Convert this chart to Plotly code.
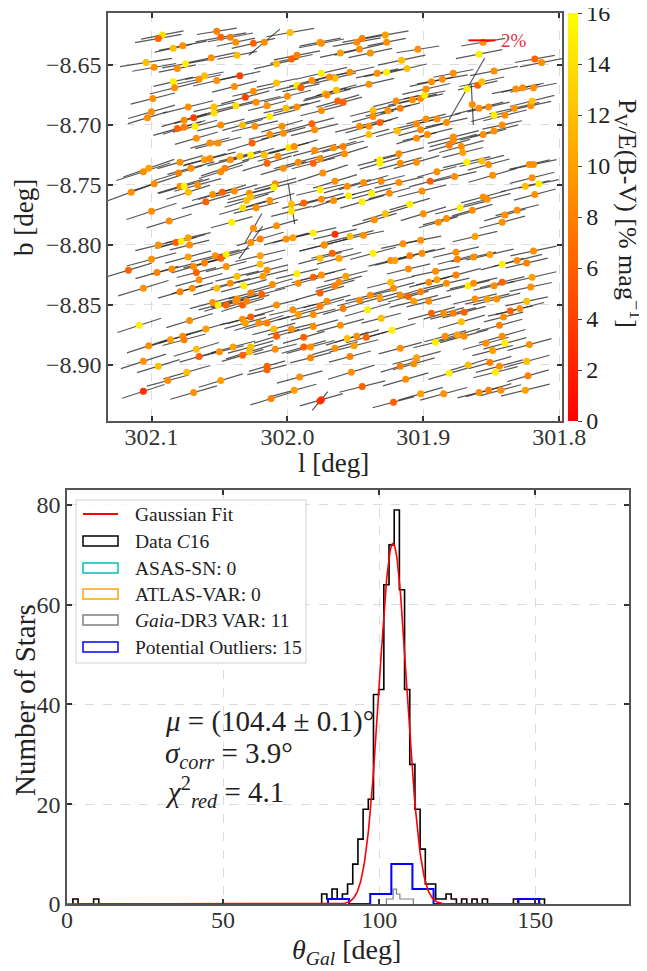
import numpy as np
import plotly.graph_objects as go

W, H = 647, 971
OFF = 8                      # page body margin of the browser
FW, FH = W - OFF, H - OFF    # figure size so that it fits the window exactly
FONT = "Liberation Serif, Times New Roman, serif"

# ---------------- Top panel: polarization vectors ----------------
l_a = [302.092, 302.095, 302.084, 302.077, 302.052, 302.049, 302.042, 302.038, 302.025, 302.017,
       301.998, 301.976, 302.104, 302.098, 302.081, 302.075, 302.056, 302.037, 302.008, 301.997,
       301.993, 302.084, 302.083, 302.065, 302.061, 302.052, 302.035, 302.039, 302.031, 302.025,
       302.008, 302.000, 301.993, 301.990, 301.982, 301.975, 301.972, 302.099, 302.100, 302.103,
       302.073, 302.054, 302.054, 302.038, 302.023, 302.015, 302.001, 301.993, 301.975, 302.076,
       302.069, 302.068, 302.081, 302.076, 302.049, 302.033, 302.024, 302.013, 302.004, 301.982,
       301.980, 302.067, 302.057, 302.051, 302.026, 302.013, 302.003, 301.999, 301.995, 301.980,
       302.106, 302.102, 302.079, 302.080, 302.071, 302.061, 302.057, 302.049, 302.046, 302.042,
       302.035, 302.027, 302.017, 302.015, 302.007, 302.003, 301.992, 301.981, 301.976, 302.115,
       302.098, 302.079, 302.076, 302.073, 302.066, 302.055, 302.048, 302.039, 302.028, 302.027,
       302.030, 302.060, 302.009, 302.010, 302.013, 301.997, 301.988, 301.976, 301.975, 302.100,
       302.087, 302.041, 302.033, 302.023, 302.025, 302.008, 301.997]
b_a = [-8.625, -8.628, -8.636, -8.634, -8.622, -8.627, -8.627, -8.631, -8.632, -8.631,
       -8.623, -8.631, -8.648, -8.652, -8.653, -8.649, -8.644, -8.642, -8.649, -8.645,
       -8.642, -8.664, -8.669, -8.662, -8.659, -8.663, -8.659, -8.668, -8.677, -8.672,
       -8.665, -8.676, -8.667, -8.669, -8.663, -8.657, -8.674, -8.678, -8.689, -8.694,
       -8.685, -8.685, -8.690, -8.684, -8.681, -8.684, -8.686, -8.685, -8.688, -8.696,
       -8.694, -8.701, -8.703, -8.702, -8.700, -8.700, -8.701, -8.693, -8.701, -8.699,
       -8.704, -8.711, -8.715, -8.715, -8.715, -8.708, -8.707, -8.719, -8.718, -8.721,
       -8.739, -8.736, -8.731, -8.740, -8.736, -8.729, -8.728, -8.739, -8.736, -8.729,
       -8.726, -8.725, -8.725, -8.732, -8.726, -8.736, -8.731, -8.732, -8.728, -8.756,
       -8.749, -8.751, -8.751, -8.756, -8.750, -8.758, -8.756, -8.755, -8.757, -8.760,
       -8.763, -8.764, -8.749, -8.752, -8.763, -8.766, -8.765, -8.754, -8.762, -8.772,
       -8.780, -8.781, -8.769, -8.769, -8.786, -8.784, -8.772]
pe_a = [14, 6, 12, 9, 8, 6, 8, 9, 6, 9,
        12, 10, 12, 9, 9, 15, 9, 12, 12, 6,
        8, 15, 9, 9, 12, 9, 4, 9, 4, 9,
        12, 9, 15, 6, 9, 15, 12, 9, 9, 9,
        9, 12, 14, 14, 9, 9, 12, 9, 9, 9,
        4, 15, 6, 8, 9, 12, 9, 15, 9, 6,
        9, 9, 9, 9, 6, 9, 9, 14, 9, 9,
        9, 10, 9, 8, 9, 10, 9, 9, 8, 9,
        12, 15, 12, 6, 9, 9, 9, 6, 9, 9,
        9, 9, 15, 12, 9, 9, 6, 9, 9, 12,
        12, 6, 9, 15, 9, 12, 6, 15, 9, 9,
        9, 15, 14, 9, 9, 9, 14]
th_a = [101, 100, 102, 101, 99, 100, 101, 102, 103, 130,
        100, 101, 99, 100, 101, 100, 102, 101, 103, 102,
        101, 103, 104, 102, 101, 103, 102, 104, 105, 103,
        102, 104, 103, 102, 104, 103, 105, 104, 106, 107,
        104, 103, 105, 104, 103, 104, 102, 105, 104, 106,
        107, 105, 106, 108, 104, 105, 103, 104, 106, 105,
        104, 106, 105, 104, 107, 103, 105, 104, 106, 105,
        108, 109, 106, 107, 105, 106, 104, 107, 108, 105,
        104, 106, 105, 107, 104, 106, 105, 104, 106, 110,
        108, 107, 106, 108, 105, 106, 107, 105, 106, 104,
        107, 106, 105, 104, 106, 9, 104, 103, 105, 108,
        107, 105, 106, 104, 150, 106, 104]
p_a = [3.2, 3.5, 2.8, 3.6, 3.0, 3.8, 3.4, 2.9, 3.3, 3.0,
       3.6, 3.1, 3.9, 3.3, 2.8, 3.5, 3.7, 3.0, 3.4, 3.2,
       3.5, 3.0, 3.8, 3.3, 2.9, 3.6, 3.1, 3.4, 3.7, 3.2,
       3.0, 3.6, 3.3, 2.8, 3.5, 3.9, 3.2, 3.4, 3.6, 3.0,
       3.8, 3.1, 3.5, 3.3, 3.7, 2.9, 3.4, 3.6, 3.2, 3.5,
       3.0, 3.4, 3.7, 3.3, 3.6, 3.1, 3.5, 3.9, 3.2, 3.4,
       3.6, 3.3, 3.0, 3.5, 3.8, 3.2, 3.4, 3.1, 3.6, 3.3,
       4.2, 4.0, 3.5, 3.8, 3.6, 3.3, 3.9, 3.4, 3.7, 3.5,
       3.2, 3.6, 3.4, 3.8, 3.1, 3.5, 3.7, 3.3, 3.6, 4.0,
       3.8, 3.5, 3.9, 3.4, 3.6, 3.2, 3.7, 3.5, 3.3, 3.6,
       3.4, 3.7, 3.2, 3.5, 3.8, 3.0, 3.3, 3.6, 3.4, 3.9,
       3.5, 3.2, 3.6, 3.4, 2.5, 3.3, 3.1]

l_b = [301.975, 301.961, 301.949, 301.945, 301.947, 301.939, 301.928, 301.927, 301.904, 301.916,
       301.912, 301.927, 301.954, 301.965, 301.969, 301.964, 301.971, 301.963, 301.959, 301.940,
       301.934, 301.920, 301.917, 301.908, 301.902, 301.899, 301.898, 301.894, 301.886, 301.878,
       301.937, 301.937, 301.932, 301.926, 301.940, 301.940, 301.947, 301.919, 301.905, 301.898,
       301.890, 301.883, 301.902, 301.897, 301.905, 301.859, 301.856, 301.868, 301.848, 301.860,
       301.857, 301.864, 301.859, 301.852, 301.848, 301.840, 301.833, 301.821, 301.820, 301.832,
       301.827, 301.819, 301.818, 301.813, 301.878, 301.878, 301.881, 301.872, 301.871, 301.856,
       301.848, 301.842, 301.966, 301.959, 301.958, 301.932, 301.932, 301.918, 301.917, 301.905,
       301.890, 301.868, 301.857, 301.852, 301.849, 301.819, 301.822, 301.974, 301.965, 301.956,
       301.966, 301.955, 301.944, 301.938, 301.945, 301.931, 301.925, 301.918, 301.910, 301.928,
       301.936, 301.901, 301.895, 301.900, 301.889, 301.883, 301.877, 301.873, 301.864, 301.856,
       301.853, 301.840, 301.842, 301.831, 301.825, 301.815, 301.820, 301.818]
b_b = [-8.632, -8.640, -8.631, -8.628, -8.637, -8.640, -8.625, -8.631, -8.637, -8.646,
       -8.653, -8.656, -8.656, -8.661, -8.660, -8.671, -8.675, -8.680, -8.681, -8.666,
       -8.657, -8.680, -8.686, -8.679, -8.678, -8.675, -8.670, -8.664, -8.662, -8.657,
       -8.688, -8.693, -8.698, -8.688, -8.701, -8.708, -8.701, -8.705, -8.699, -8.695,
       -8.695, -8.698, -8.704, -8.708, -8.711, -8.641, -8.631, -8.670, -8.655, -8.667,
       -8.664, -8.683, -8.686, -8.685, -8.692, -8.692, -8.686, -8.684, -8.680, -8.670,
       -8.669, -8.669, -8.645, -8.648, -8.713, -8.710, -8.717, -8.718, -8.723, -8.708,
       -8.705, -8.700, -8.719, -8.718, -8.724, -8.729, -8.732, -8.724, -8.732, -8.731,
       -8.739, -8.731, -8.730, -8.733, -8.742, -8.733, -8.733, -8.740, -8.747, -8.751,
       -8.763, -8.759, -8.748, -8.757, -8.764, -8.747, -8.757, -8.748, -8.766, -8.774,
       -8.779, -8.755, -8.747, -8.774, -8.781, -8.778, -8.743, -8.769, -8.771, -8.760,
       -8.762, -8.775, -8.781, -8.771, -8.751, -8.749, -8.744, -8.758]
pe_b = [9, 10, 9, 8, 9, 9, 10, 9, 9, 12,
        12, 15, 9, 12, 9, 12, 9, 6, 6, 9,
        9, 9, 8, 9, 9, 15, 9, 9, 9, 9,
        12, 9, 6, 9, 9, 12, 9, 12, 9, 9,
        9, 9, 9, 9, 9, 15, 9, 15, 9, 6,
        12, 9, 9, 9, 15, 9, 9, 9, 12, 9,
        9, 9, 6, 9, 9, 9, 8, 9, 10, 9,
        9, 9, 9, 8, 9, 15, 15, 9, 9, 9,
        9, 15, 12, 9, 9, 9, 9, 9, 9, 9,
        9, 15, 9, 15, 15, 9, 9, 9, 15, 12,
        9, 9, 6, 9, 9, 9, 9, 15, 9, 9,
        9, 9, 9, 9, 12, 15, 9, 9]
th_b = [101, 102, 100, 101, 103, 102, 100, 101, 99, 102,
        103, 101, 102, 104, 103, 105, 104, 106, 105, 103,
        102, 104, 105, 103, 102, 101, 103, 102, 100, 101,
        104, 105, 106, 104, 106, 105, 104, 105, 103, 104,
        103, 102, 105, 104, 106, 101, 100, 150, 101, 103,
        102, 3, 104, 103, 105, 104, 103, 102, 104, 101,
        102, 101, 100, 101, 105, 104, 106, 105, 104, 103,
        104, 102, 106, 105, 107, 105, 106, 104, 105, 106,
        105, 103, 104, 105, 106, 102, 103, 108, 107, 106,
        107, 105, 106, 105, 106, 104, 105, 103, 106, 107,
        106, 104, 105, 107, 106, 105, 103, 104, 106, 105,
        104, 106, 105, 104, 103, 102, 104, 105]
p_b = [3.4, 3.1, 3.6, 3.0, 3.8, 3.3, 3.5, 2.9, 3.2, 3.6,
       3.0, 3.4, 3.7, 3.2, 3.5, 3.1, 3.6, 3.3, 2.9, 3.8,
       3.2, 3.5, 3.0, 3.7, 3.4, 3.1, 3.6, 3.3, 3.8, 3.0,
       3.5, 3.2, 2.8, 3.4, 3.6, 3.1, 3.7, 3.3, 3.5, 3.0,
       3.6, 3.2, 3.4, 3.8, 3.1, 3.5, 3.3, 5.3, 3.6, 3.0,
       3.4, 3.0, 3.7, 3.2, 3.5, 3.3, 3.8, 3.1, 3.4, 3.6,
       3.2, 3.5, 3.0, 3.3, 3.6, 3.9, 3.2, 3.4, 3.1, 3.5,
       3.7, 3.0, 3.5, 3.2, 3.6, 3.4, 3.1, 3.8, 3.3, 3.5,
       3.0, 3.6, 3.4, 3.2, 3.7, 3.5, 3.1, 3.9, 3.4, 3.6,
       3.3, 3.5, 3.8, 3.0, 3.4, 3.6, 3.2, 3.7, 3.1, 3.5,
       3.4, 3.7, 3.2, 3.5, 3.0, 3.6, 3.3, 3.8, 3.1, 3.4,
       3.6, 3.2, 3.5, 3.3, 3.7, 3.0, 3.4, 3.2]

l_c = [302.095, 302.082, 302.078, 302.072, 302.073, 302.100, 302.096, 302.117, 302.085, 302.073,
       302.069, 302.067, 302.065, 302.061, 302.053, 302.049, 302.045, 302.045, 302.020, 302.020,
       302.015, 302.027, 302.020, 302.001, 301.996, 301.981, 301.976, 301.973, 302.106, 302.079,
       302.070, 302.052, 302.042, 302.032, 302.037, 302.018, 302.011, 302.027, 302.019, 301.993,
       301.992, 301.981, 301.976, 302.109, 302.072, 302.060, 302.055, 302.051, 302.045, 302.038,
       302.033, 302.030, 302.037, 302.027, 302.033, 302.031, 302.021, 302.015, 302.008, 301.996,
       301.992, 301.981, 301.976, 302.010, 302.008, 301.997, 301.988, 301.981, 302.102, 302.086,
       302.077, 302.076, 302.067, 302.065, 302.050, 302.040, 302.033, 302.028, 302.027, 302.009,
       301.988, 301.983, 301.983, 302.106, 302.095, 302.074, 302.088, 302.049, 302.015, 302.015,
       301.991, 302.106, 302.069, 302.012, 301.995, 301.976]
b_c = [-8.800, -8.798, -8.797, -8.800, -8.794, -8.812, -8.823, -8.821, -8.820, -8.810,
       -8.818, -8.823, -8.829, -8.815, -8.809, -8.811, -8.808, -8.818, -8.809, -8.816,
       -8.821, -8.798, -8.795, -8.795, -8.794, -8.790, -8.811, -8.800, -8.836, -8.839,
       -8.836, -8.836, -8.832, -8.834, -8.826, -8.826, -8.833, -8.840, -8.841, -8.824,
       -8.832, -8.827, -8.840, -8.867, -8.863, -8.870, -8.848, -8.850, -8.850, -8.847,
       -8.850, -8.847, -8.845, -8.860, -8.862, -8.865, -8.865, -8.865, -8.850, -8.854,
       -8.858, -8.858, -8.851, -8.870, -8.876, -8.870, -8.877, -8.868, -8.884, -8.879,
       -8.876, -8.879, -8.887, -8.893, -8.889, -8.885, -8.892, -8.889, -8.885, -8.887,
       -8.885, -8.885, -8.894, -8.897, -8.901, -8.906, -8.913, -8.913, -8.901, -8.904,
       -8.910, -8.922, -8.923, -8.928, -8.921, -8.930]
pe_c = [9, 6, 15, 9, 10, 9, 8, 6, 9, 10,
        9, 6, 9, 8, 9, 6, 15, 9, 10, 12,
        9, 9, 8, 9, 10, 15, 12, 9, 9, 8,
        9, 12, 9, 15, 12, 10, 9, 8, 6, 15,
        9, 6, 6, 15, 9, 10, 9, 15, 6, 9,
        6, 8, 9, 6, 9, 10, 9, 8, 9, 9,
        10, 9, 8, 12, 6, 9, 6, 9, 9, 10,
        9, 8, 12, 6, 9, 10, 6, 12, 12, 9,
        6, 9, 8, 9, 12, 12, 9, 10, 6, 6,
        9, 3, 9, 8, 10, 3]
th_c = [104, 105, 106, 104, 103, 105, 106, 107, 104, 105,
        106, 104, 105, 103, 104, 106, 105, 104, 103, 105,
        104, 144, 106, 105, 104, 103, 105, 104, 107, 106,
        105, 106, 104, 105, 103, 104, 106, 105, 104, 103,
        105, 104, 106, 108, 107, 106, 105, 104, 106, 105,
        107, 106, 105, 106, 104, 105, 107, 106, 104, 103,
        105, 104, 106, 105, 107, 104, 106, 105, 108, 107,
        106, 105, 107, 106, 104, 105, 106, 107, 105, 104,
        106, 105, 104, 108, 107, 106, 105, 107, 106, 104,
        105, 108, 106, 107, 105, 140]
p_c = [3.5, 3.2, 3.7, 3.0, 3.4, 3.8, 3.3, 3.6, 3.1, 3.5,
       3.4, 3.0, 3.6, 3.2, 3.7, 3.3, 3.5, 3.1, 3.8, 3.4,
       3.2, 3.0, 3.6, 3.4, 3.1, 3.5, 3.3, 3.7, 3.9, 3.4,
       3.2, 3.6, 3.0, 3.5, 3.3, 3.8, 3.1, 3.4, 3.6, 3.2,
       3.5, 3.3, 3.7, 3.4, 3.6, 3.2, 3.5, 3.0, 3.4, 3.7,
       3.3, 3.5, 3.1, 3.6, 3.4, 3.2, 3.8, 3.5, 3.3, 3.6,
       3.1, 3.4, 3.7, 3.3, 3.5, 3.6, 3.2, 3.8, 3.4, 3.1,
       3.6, 3.3, 3.5, 3.0, 3.7, 3.4, 3.2, 3.6, 3.5, 3.3,
       3.4, 3.7, 3.1, 3.5, 3.3, 3.6, 3.2, 3.4, 2.8, 3.0,
       3.5, 3.3, 3.6, 3.2, 3.4, 1.8]

l_d = [301.965, 301.954, 301.944, 301.937, 301.973, 301.967, 301.962, 301.975, 301.965, 301.962,
       301.957, 301.971, 301.959, 301.947, 301.939, 301.932, 301.941, 301.931, 301.961, 301.956,
       301.949, 301.942, 301.951, 301.965, 301.954, 301.953, 301.924, 301.921, 301.915, 301.910,
       301.901, 301.922, 301.924, 301.917, 301.911, 301.907, 301.911, 301.902, 301.896, 301.891,
       301.890, 301.883, 301.876, 301.867, 301.863, 301.848, 301.842, 301.820, 301.821, 301.876,
       301.875, 301.863, 301.851, 301.842, 301.831, 301.824, 301.819, 301.902, 301.862, 301.923,
       301.917, 301.917, 301.913, 301.905, 301.907, 301.896, 301.894, 301.885, 301.878, 301.870,
       301.872, 301.891, 301.884, 301.875, 301.870, 301.867, 301.851, 301.844, 301.847, 301.881,
       301.854, 301.849, 301.842, 301.840, 301.836, 301.829, 301.824, 301.844, 301.841, 301.853,
       301.846, 301.862, 301.824, 301.823, 301.822, 301.825, 301.843, 301.852, 301.859, 301.885,
       301.902, 301.922, 301.945, 301.975]
b_d = [-8.791, -8.793, -8.792, -8.807, -8.800, -8.807, -8.811, -8.825, -8.834, -8.831,
       -8.826, -8.847, -8.853, -8.846, -8.842, -8.844, -8.854, -8.861, -8.867, -8.878,
       -8.876, -8.877, -8.884, -8.886, -8.893, -8.906, -8.813, -8.813, -8.799, -8.809,
       -8.807, -8.836, -8.831, -8.842, -8.843, -8.847, -8.820, -8.839, -8.831, -8.822,
       -8.829, -8.832, -8.825, -8.834, -8.832, -8.834, -8.831, -8.827, -8.835, -8.806,
       -8.812, -8.810, -8.808, -8.816, -8.813, -8.815, -8.805, -8.796, -8.793, -8.871,
       -8.886, -8.901, -8.912, -8.894, -8.899, -8.847, -8.857, -8.857, -8.857, -8.856,
       -8.864, -8.881, -8.876, -8.875, -8.876, -8.900, -8.898, -8.901, -8.906, -8.907,
       -8.882, -8.888, -8.876, -8.882, -8.855, -8.853, -8.847, -8.867, -8.860, -8.845,
       -8.845, -8.845, -8.897, -8.909, -8.883, -8.921, -8.921, -8.921, -8.923, -8.924,
       -8.924, -8.931, -8.918, -8.929]
pe_d = [3, 12, 9, 15, 9, 6, 10, 9, 8, 9,
        10, 9, 8, 9, 9, 10, 15, 12, 9, 12,
        9, 6, 10, 9, 8, 9, 9, 10, 9, 8,
        9, 9, 12, 9, 6, 10, 9, 8, 9, 9,
        10, 9, 8, 15, 9, 9, 6, 10, 9, 9,
        8, 9, 10, 15, 9, 8, 9, 9, 10, 15,
        9, 8, 9, 10, 9, 9, 6, 9, 8, 6,
        12, 15, 9, 10, 9, 12, 8, 9, 15, 15,
        9, 10, 9, 15, 6, 9, 12, 8, 9, 10,
        9, 9, 12, 8, 9, 10, 9, 8, 9, 9,
        10, 6, 6, 3]
th_d = [103, 104, 102, 105, 104, 103, 105, 104, 106, 105,
        104, 105, 106, 104, 103, 105, 106, 104, 105, 107,
        106, 105, 104, 106, 105, 107, 104, 103, 102, 104,
        103, 105, 104, 106, 105, 104, 103, 105, 104, 102,
        104, 103, 105, 104, 103, 102, 104, 103, 102, 103,
        104, 102, 103, 105, 104, 103, 102, 101, 103, 106,
        105, 107, 106, 105, 106, 104, 105, 106, 104, 105,
        106, 104, 105, 106, 105, 107, 106, 105, 104, 106,
        105, 104, 106, 105, 103, 104, 102, 105, 104, 103,
        104, 103, 105, 106, 105, 104, 105, 106, 104, 105,
        106, 105, 104, 106]
p_d = [3.3, 3.6, 3.1, 3.5, 3.8, 3.2, 3.4, 3.7, 3.0, 3.5,
       3.3, 3.6, 3.1, 3.4, 3.8, 3.2, 3.5, 3.0, 3.6, 3.3,
       3.4, 3.1, 3.7, 3.5, 3.2, 3.6, 3.4, 3.0, 3.3, 3.8,
       3.5, 3.2, 3.6, 3.4, 3.1, 3.7, 3.3, 3.5, 3.0, 3.6,
       3.2, 3.5, 3.8, 3.3, 3.6, 3.1, 3.4, 3.7, 3.2, 3.5,
       3.0, 3.4, 3.6, 3.3, 3.8, 3.2, 3.5, 3.1, 3.4, 3.6,
       3.3, 3.0, 3.5, 3.7, 3.2, 3.4, 3.6, 3.1, 3.5, 3.3,
       3.6, 3.4, 3.2, 3.5, 3.7, 3.0, 3.3, 3.6, 3.4, 3.2,
       3.5, 3.1, 3.6, 3.3, 3.4, 3.7, 3.2, 3.5, 3.0, 3.4,
       3.6, 3.3, 3.5, 3.2, 3.4, 3.7, 3.1, 3.5, 3.3, 3.6,
       3.4, 3.2, 3.5, 3.3]

scale_bar_pct = 2.0  # reference vector length (%)

# ---------------- Bottom panel: histograms ----------------
data_start, data_width = 1.88, 1.66
data_counts = [1, 0, 0, 0, 1, 0, 0, 0, 0, 0,
               0, 0, 0, 0, 0, 0, 0, 0, 0, 0,
               0, 0, 0, 0, 0, 0, 0, 0, 0, 0,
               0, 0, 0, 0, 0, 0, 0, 0, 0, 0,
               0, 0, 0, 0, 0, 0, 0, 0, 2, 1,
               3, 1, 2, 4, 8, 13, 19, 21, 42, 43,
               64, 72, 79, 63, 43, 28, 19, 11, 4, 4,
               1, 1, 2, 1, 0, 1, 0, 1, 0, 1,
               0, 0, 0, 0, 0, 1, 0, 0, 0, 0, 1]
out_start, out_width = 83.6, 6.76
out_counts = [1, 0, 2, 8, 3, 0, 0, 0, 0, 1]
gaia_start, gaia_width = 102.3, 1.08
gaia_counts = [1, 1, 3, 2, 1, 1, 1, 1]
fit_amp, fit_mu, fit_sigma = 72.3, 104.4, 4.4
fit_xmin, fit_xmax = 0.0, 152.0

# ---------------- geometry (screen pixels) ----------------
TOP = dict(x0=108, x1=562, y0=13, y1=421)
BOT = dict(x0=67, x1=629, y0=490, y1=904)
l_range = [302.132, 301.798]
b_range = [-8.9467, -8.6067]


def px(x):
    return (x - OFF) / FW


def py(y):
    return 1 - (y - OFF) / FH


star_l = l_a + l_b + l_c + l_d
star_b = b_a + b_b + b_c + b_d
star_pe = pe_a + pe_b + pe_c + pe_d
star_th = th_a + th_b + th_c + th_d
star_p = p_a + p_b + p_c + p_d
n = min(len(star_l), len(star_b), len(star_pe), len(star_th), len(star_p))

ppd_l = (TOP["x1"] - TOP["x0"]) / abs(l_range[0] - l_range[1])
ppd_b = (TOP["y1"] - TOP["y0"]) / abs(b_range[1] - b_range[0])
px_per_pct = 13.5

sx, sy = [], []
for i in range(n):
    L = star_p[i] * px_per_pct
    t = np.radians(star_th[i])
    dl = 0.5 * L * np.sin(t) / ppd_l
    db = 0.5 * L * np.cos(t) / ppd_b
    sx += [star_l[i] + dl, star_l[i] - dl, None]
    sy += [star_b[i] + db, star_b[i] - db, None]

fig = go.Figure()
fig.add_trace(go.Scatter(x=sx, y=sy, mode="lines", xaxis="x", yaxis="y",
                         line=dict(color="rgba(40,40,40,0.78)", width=1.2),
                         hoverinfo="skip", showlegend=False))
fig.add_trace(go.Scatter(
    x=star_l[:n], y=star_b[:n], mode="markers", xaxis="x", yaxis="y", showlegend=False,
    marker=dict(size=7, color=star_pe[:n], cmin=0, cmax=16,
                colorscale=[[0, "rgb(255,0,0)"], [1, "rgb(255,255,0)"]],
                line=dict(width=0),
                colorbar=dict(x=px(568), xanchor="left", y=py((TOP["y0"] + TOP["y1"]) / 2),
                              yanchor="middle", len=TOP["y1"] - TOP["y0"], lenmode="pixels",
                              thickness=10, outlinewidth=0, ticks="outside", ticklen=4,
                              tickmode="array", tickvals=list(range(0, 17, 2)),
                              ticktext=[str(v) for v in range(0, 17, 2)], xpad=0, ypad=0,
                              ticklabeloverflow="allow",
                              tickfont=dict(family=FONT, size=24, color="#222")))))

# scale bar (2%)
bar_len_deg = scale_bar_pct * px_per_pct / ppd_l
bar_right = 301.847
fig.add_shape(type="line", xref="x", yref="y", x0=bar_right + bar_len_deg, x1=bar_right,
              y0=-8.6295, y1=-8.6295, line=dict(color="red", width=2))
fig.add_annotation(xref="x", yref="y", x=bar_right - 0.003, y=-8.6295, text="2%",
                   showarrow=False, xanchor="left", yanchor="middle",
                   font=dict(family=FONT, size=19, color="#e8303a"))


def step_xy(start, width, counts):
    xs, ys = [start], [0]
    for k, c in enumerate(counts):
        xs += [start + k * width, start + (k + 1) * width]
        ys += [c, c]
    xs.append(start + len(counts) * width)
    ys.append(0)
    return xs, ys


fx = np.linspace(fit_xmin, fit_xmax, 800)
fy = fit_amp * np.exp(-0.5 * ((fx - fit_mu) / fit_sigma) ** 2)

gx, gy = step_xy(gaia_start, gaia_width, gaia_counts)
fig.add_trace(go.Scatter(x=gx, y=gy, mode="lines", xaxis="x2", yaxis="y2", showlegend=False,
                         line=dict(color="gray", width=1.2), hoverinfo="skip"))
dx, dy = step_xy(data_start, data_width, data_counts)
fig.add_trace(go.Scatter(x=dx, y=dy, mode="lines", xaxis="x2", yaxis="y2", showlegend=False,
                         line=dict(color="black", width=1.6), hoverinfo="skip"))
ox, oy = step_xy(out_start, out_width, out_counts)
fig.add_trace(go.Scatter(x=ox, y=oy, mode="lines", xaxis="x2", yaxis="y2", showlegend=False,
                         line=dict(color="blue", width=2), hoverinfo="skip"))
fig.add_trace(go.Scatter(x=fx, y=fy, mode="lines", xaxis="x2", yaxis="y2", showlegend=False,
                         line=dict(color="red", width=1.6), hoverinfo="skip"))

axis_common = dict(showline=True, linecolor="#555", linewidth=1.5, mirror="ticks",
                   ticks="inside", ticklen=5, tickwidth=1.5, tickcolor="#333",
                   showgrid=True, gridcolor="#dcdcdc", griddash="dash", gridwidth=1,
                   zeroline=False, automargin=False,
                   tickfont=dict(family=FONT, size=24, color="#333"))

fig.update_layout(
    width=FW, height=FH, margin=dict(l=0, r=0, t=0, b=0, pad=0, autoexpand=False),
    font=dict(family=FONT, size=24, color="#333"),
    paper_bgcolor="white", plot_bgcolor="white", showlegend=False,
    xaxis=dict(domain=[px(TOP["x0"]), px(TOP["x1"])], range=l_range, anchor="y",
               tickvals=[302.1, 302.0, 301.9, 301.8], ticklabelstandoff=-7,
               ticktext=["302.1", "302.0", "301.9", "301.8"], **axis_common),
    yaxis=dict(domain=[py(TOP["y1"]), py(TOP["y0"])], range=b_range, anchor="x",
               tickvals=[-8.65, -8.70, -8.75, -8.80, -8.85, -8.90],
               ticktext=["\u22128.65", "\u22128.70", "\u22128.75", "\u22128.80", "\u22128.85", "\u22128.90"],
               **axis_common),
    xaxis2=dict(domain=[px(BOT["x0"]), px(BOT["x1"])], range=[0, 180], anchor="y2",
                tickvals=[0, 50, 100, 150], ticklabelstandoff=-7, **axis_common),
    yaxis2=dict(domain=[py(BOT["y1"]), py(BOT["y0"])], range=[0, 83], anchor="x2",
                tickvals=[0, 20, 40, 60, 80], **axis_common),
)


def ann(x, y, text, size, angle=0, xanchor="center", color="#222"):
    fig.add_annotation(xref="paper", yref="paper", x=px(x), y=py(y), text=text,
                       showarrow=False, textangle=angle, xanchor=xanchor, yanchor="middle",
                       font=dict(family=FONT, size=size, color=color))


# axis titles
ann(333, 463, "l [deg]", 27)
ann(24, 218, "b [deg]", 27, angle=-90)
ann(628, 213, "P<sub>V</sub>/E(B-V) [% mag<sup>\u22121</sup>]", 26, angle=90)
ann(25, 700, "Number of Stars", 29, angle=-90)
ann(346, 951, "<i>\u03b8<sub>Gal</sub></i> [deg]", 28)

# fit statistics text
ann(163, 721, "<i>\u03bc</i> = (104.4 \u00b1 0.1)\u00b0", 29, xanchor="left")
ann(163, 755, "<i>\u03c3<sub>corr</sub></i> = 3.9\u00b0", 29, xanchor="left")
ann(163, 792, "<i>\u03c7</i><sup>2</sup><i><sub>red</sub></i> = 4.1", 29, xanchor="left")

# manual legend
fig.add_shape(type="rect", xref="paper", yref="paper", x0=px(76), x1=px(306), y0=py(663), y1=py(500),
              line=dict(color="#d0d0d0", width=1), fillcolor="rgba(255,255,255,0.85)", layer="above")
legend_rows = [("line", "red", "Gaussian Fit"),
               ("rect", "black", "Data <i>C</i>16"),
               ("rect", "rgb(0,191,191)", "ASAS-SN: 0"),
               ("rect", "orange", "ATLAS-VAR: 0"),
               ("rect", "gray", "<i>Gaia</i>-DR3 VAR: 11"),
               ("rect", "blue", "Potential Outliers: 15")]
row_y = [514, 541, 568, 594, 620, 647]
for (kind, col, label), yy in zip(legend_rows, row_y):
    if kind == "line":
        fig.add_shape(type="line", xref="paper", yref="paper", x0=px(83), x1=px(118),
                      y0=py(yy), y1=py(yy), line=dict(color=col, width=2), layer="above")
    else:
        fig.add_shape(type="rect", xref="paper", yref="paper", x0=px(83), x1=px(118),
                      y0=py(yy + 5), y1=py(yy - 5), line=dict(color=col, width=1.5),
                      fillcolor="rgba(0,0,0,0)", layer="above")
    ann(133, yy, label, 19.5, xanchor="left")

fig.write_html("out.html")
